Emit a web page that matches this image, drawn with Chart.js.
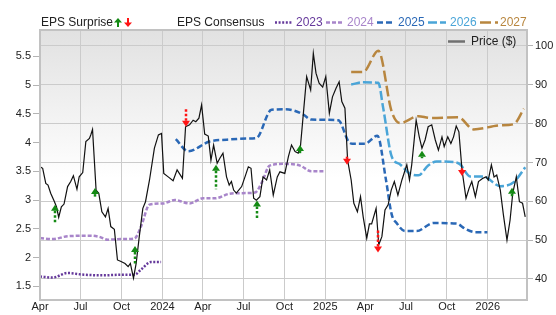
<!DOCTYPE html>
<html>
<head>
<meta charset="utf-8">
<script src="https://cdn.jsdelivr.net/npm/chart.js@4.4.1/dist/chart.umd.min.js"></script>
<style>
  html, body { margin: 0; padding: 0; background: #fff; }
  #wrap { position: relative; width: 556px; height: 315px; font-family: "Liberation Sans", Arial, sans-serif; }
  #chart { position: absolute; left: 0; top: 0; }
  .lg { position: absolute; font-size: 12px; line-height: 14px; white-space: nowrap; color: #222; }
  #marks { position: absolute; left: 0; top: 0; pointer-events: none; }
</style>
</head>
<body>
<div id="wrap">
  <canvas id="chart" width="556" height="315"></canvas>
  <svg id="marks" width="556" height="315"></svg>
  <div class="lg" style="left:41px; top:15px">EPS Surprise</div>
  <div class="lg" style="left:177px; top:15px">EPS Consensus</div>
  <div class="lg" id="lg2023" style="left:296px; top:15px">2023</div>
  <div class="lg" id="lg2024" style="left:347px; top:15px">2024</div>
  <div class="lg" id="lg2025" style="left:398px; top:15px">2025</div>
  <div class="lg" id="lg2026" style="left:450px; top:15px">2026</div>
  <div class="lg" id="lg2027" style="left:500px; top:15px">2027</div>
  <div class="lg" style="left:471px; top:34px">Price ($)</div>
</div>
<script>
// ============================================
// Data (x = days since Apr 1, 2023)
// ============================================

const monthTickDays = [0, 91, 183, 275, 366, 457, 549, 641, 731, 822, 914, 1006];
const monthTickLabels = ['Apr', 'Jul', 'Oct', '2024', 'Apr', 'Jul', 'Oct', '2025', 'Apr', 'Jul', 'Oct', '2026'];
const epsTicks = [1.5, 2, 2.5, 3, 3.5, 4, 4.5, 5, 5.5];
const priceTicks = [40, 50, 60, 70, 80, 90, 100];

const priceDays = [0, 6, 13, 18, 24, 32, 37, 42, 48, 54, 62, 69, 75, 83, 88, 96, 103, 111, 114, 118,
  126, 132, 139, 147, 153, 159, 167, 174, 182, 191, 198, 203, 210, 216, 223, 231, 237, 246, 257, 266,
  273, 278, 288, 299, 308, 320, 327, 336, 344, 350, 357, 363, 370, 378, 384, 390, 398, 404, 411, 419,
  425, 430, 435, 441, 453, 462, 468, 474, 480, 486, 494, 501, 509, 516, 524, 533, 539, 550, 558, 565,
  573, 580, 585, 591, 599, 608, 614, 620, 627, 635, 642, 650, 657, 665, 672, 678, 685, 691, 699, 705,
  713, 720, 726, 734, 740, 745, 755, 761, 768, 775, 782, 789, 796, 804, 813, 824, 830, 835, 845, 852,
  858, 865, 872, 880, 888, 895, 903, 908, 916, 923, 929, 935, 941, 948, 957, 964, 970, 978, 985, 994,
  1002, 1007, 1014, 1020, 1026, 1034, 1041, 1049, 1056, 1062, 1070, 1077, 1084, 1090];
const priceValues = [68.9, 68.5, 64.6, 64.2, 62.1, 60.0, 58.6, 55.9, 58.6, 59.3, 63.8, 65.1, 66.6, 63.1, 66.3, 67.4, 75.4, 76.2, 77.1, 78.5,
  62.9, 62.1, 57.3, 56.0, 58.2, 53.5, 52.8, 44.9, 44.5, 44.0, 43.2, 44.0, 40.2, 44.0, 50.9, 58.2, 59.9, 65.5, 73.7, 77.1,
  77.5, 67.2, 66.3, 65.3, 68.1, 65.9, 79.2, 79.7, 80.9, 80.5, 81.4, 84.8, 77.3, 76.8, 70.6, 74.5, 69.8, 71.1, 72.4, 66.3,
  64.2, 65.1, 62.9, 62.1, 63.8, 66.8, 68.9, 68.5, 60.8, 60.3, 61.2, 66.3, 65.5, 68.1, 61.6, 66.3, 67.6, 67.2, 71.5, 74.5,
  72.8, 72.4, 74.1, 81.8, 92.1, 88.7, 98.1, 93.0, 90.4, 89.4, 92.1, 82.7, 86.9, 89.1, 90.8, 85.7, 84.0, 70.6, 65.5, 59.5,
  57.3, 61.2, 56.0, 50.5, 54.2, 54.2, 58.2, 48.8, 50.9, 57.8, 59.1, 62.9, 65.1, 61.6, 65.5, 69.4, 65.5, 69.4, 80.9, 76.6,
  73.7, 75.8, 79.2, 79.7, 75.8, 73.2, 76.6, 74.1, 76.6, 74.9, 76.6, 79.4, 77.9, 68.1, 60.8, 63.4, 65.1, 61.2, 65.1, 65.9,
  66.3, 65.5, 69.4, 66.3, 66.8, 62.9, 56.5, 50.0, 55.2, 62.1, 66.3, 59.9, 59.5, 56.0];

const eps2023Days = [0, 28, 62, 99, 144, 182, 212, 227, 249, 272];
const eps2023Values = [1.67, 1.65, 1.73, 1.70, 1.69, 1.70, 1.70, 1.79, 1.92, 1.92];

const eps2024Days = [0, 28, 62, 114, 133, 152, 182, 212, 227, 246, 276, 303, 336, 366, 393, 426, 453, 483, 498, 516, 550, 584, 610, 637];
const eps2024Values = [2.34, 2.32, 2.37, 2.38, 2.36, 2.31, 2.32, 2.33, 2.54, 2.92, 2.94, 3.00, 2.94, 3.03, 3.03, 3.11, 3.12, 3.13, 3.30, 3.60, 3.63, 3.60, 3.50, 3.50];

const eps2025Days = [305, 333, 381, 419, 464, 486, 520, 550, 569, 591, 610, 670, 693, 702, 730, 758, 777, 790, 801, 820, 846, 884, 936, 955, 978, 1005];
const eps2025Values = [4.06, 3.85, 4.02, 4.05, 4.07, 4.08, 4.57, 4.58, 4.56, 4.49, 4.40, 4.39, 4.02, 3.98, 3.98, 4.12, 3.36, 2.75, 2.60, 2.46, 2.46, 2.60, 2.59, 2.50, 2.44, 2.44];

const eps2026Days = [699, 726, 760, 771, 790, 809, 831, 850, 872, 891, 929, 944, 966, 996, 1034, 1064, 1090];
const eps2026Values = [5.01, 5.05, 5.04, 4.60, 3.76, 3.62, 3.46, 3.43, 3.60, 3.67, 3.66, 3.62, 3.41, 3.41, 3.24, 3.31, 3.57];

const eps2027Days = [699, 726, 760, 790, 809, 850, 876, 940, 974, 1034, 1064, 1087];
const eps2027Values = [5.23, 5.23, 5.60, 4.54, 4.34, 4.46, 4.43, 4.44, 4.23, 4.30, 4.32, 4.59];

// EPS surprise arrows, in price units (tip = arrow head, tail = end of dotted stem)
const surpriseDays = [34, 124, 214, 327, 396, 488, 585, 690, 760, 858, 948, 1061];
const surpriseTip = [59.1, 63.4, 48.5, 79.2, 69.4, 60.2, 74.5, 69.4, 46.8, 73.0, 66.5, 63.5];
const surpriseTail = [54.4, 61.2, 43.6, 84.0, 63.1, 55.2, 72.4, 71.5, 52.8, 71.1, 68.5, 61.2];
const surpriseBeat = [true, true, true, false, true, true, true, false, false, true, false, true];

// ============================================
// Styles
// ============================================

const series = [
  { year: '2023', days: eps2023Days, values: eps2023Values, color: '#65399b', dash: [2, 1.6] },
  { year: '2024', days: eps2024Days, values: eps2024Values, color: '#a885ca', dash: [4, 2] },
  { year: '2025', days: eps2025Days, values: eps2025Values, color: '#2a68b6', dash: [6, 3] },
  { year: '2026', days: eps2026Days, values: eps2026Values, color: '#4aa5d8', dash: [9, 3] },
  { year: '2027', days: eps2027Days, values: eps2027Values, color: '#b8863f', dash: [11, 4] }
];
const beatColor = '#148a14';
const missColor = '#ff1414';
const gridColor = '#cbcbcb';

function toPoints(days, values) {
  return days.map((d, i) => ({ x: d, y: values[i] }));
}

// ============================================
// Plugins
// ============================================

const plotBackground = {
  id: 'plotBackground',
  beforeDraw(chart) {
    const { ctx, chartArea: a } = chart;
    const g = ctx.createLinearGradient(0, a.top, 0, a.bottom);
    g.addColorStop(0, '#e1e1e1');
    g.addColorStop(0.55, '#ffffff');
    g.addColorStop(1, '#ffffff');
    ctx.save();
    ctx.fillStyle = g;
    ctx.fillRect(a.left, a.top, a.right - a.left, a.bottom - a.top);
    ctx.restore();
  },
  afterDraw(chart) {
    const { ctx, chartArea: a } = chart;
    ctx.save();
    ctx.strokeStyle = '#c2c2c2';
    ctx.lineWidth = 2;
    ctx.strokeRect(a.left, a.top, a.right - a.left, a.bottom - a.top);
    ctx.restore();
  }
};

const surpriseArrows = {
  id: 'surpriseArrows',
  afterDatasetsDraw(chart) {
    const { ctx, scales: { x, y1 } } = chart;
    surpriseDays.forEach((d, i) => {
      const px = Math.round(x.getPixelForValue(d));
      const tip = y1.getPixelForValue(surpriseTip[i]);
      const tail = y1.getPixelForValue(surpriseTail[i]);
      const up = surpriseBeat[i];
      const color = up ? beatColor : missColor;
      const base = tip + (up ? 6 : -6);
      ctx.save();
      ctx.strokeStyle = color;
      ctx.lineWidth = 2.5;
      ctx.setLineDash([2.5, 2]);
      ctx.beginPath();
      ctx.moveTo(px, base);
      ctx.lineTo(px, tail);
      ctx.stroke();
      ctx.setLineDash([]);
      ctx.fillStyle = color;
      ctx.beginPath();
      ctx.moveTo(px, tip);
      ctx.lineTo(px - 4, base);
      ctx.lineTo(px + 4, base);
      ctx.closePath();
      ctx.fill();
      ctx.restore();
    });
  }
};

// ============================================
// Legend marks (svg overlay)
// ============================================

function drawLegendMarks() {
  const svg = document.getElementById('marks');
  const lineX = { '2023': 275, '2024': 326, '2025': 377, '2026': 428, '2027': 480 };
  let html = '';
  series.forEach(s => {
    const x1 = lineX[s.year];
    html += `<line x1="${x1}" y1="22.5" x2="${x1 + 18}" y2="22.5" stroke="${s.color}" stroke-width="2.5" stroke-dasharray="${s.dash.join(',')}"/>`;
    document.getElementById('lg' + s.year).style.color = s.color;
  });
  // surprise icons
  html += `<path d="M118 18 L122 22.5 L119 22.5 L119 27 L117 27 L117 22.5 L114 22.5 Z" fill="${beatColor}"/>`;
  html += `<path d="M128 27 L132 22.5 L129 22.5 L129 18 L127 18 L127 22.5 L124 22.5 Z" fill="${missColor}"/>`;
  // price legend
  html += `<line x1="448" y1="41.5" x2="465" y2="41.5" stroke="#707070" stroke-width="2.5"/>`;
  svg.innerHTML = html;
}

// ============================================
// Chart
// ============================================

Chart.defaults.font.family = '"Liberation Sans", Arial, sans-serif';
Chart.defaults.font.size = 11;
Chart.defaults.color = '#222';

const datasets = [
  {
    label: 'Price ($)',
    data: toPoints(priceDays, priceValues),
    yAxisID: 'y1',
    borderColor: '#111',
    borderWidth: 1.2,
    pointRadius: 0,
    tension: 0
  }
].concat(series.map(s => ({
  label: s.year,
  data: toPoints(s.days, s.values),
  yAxisID: 'y',
  borderColor: s.color,
  borderWidth: 2.5,
  borderDash: s.dash,
  pointRadius: 0,
  cubicInterpolationMode: 'monotone'
})));

new Chart(document.getElementById('chart'), {
  type: 'line',
  data: { datasets: datasets },
  options: {
    responsive: false,
    animation: false,
    devicePixelRatio: 1,
    layout: { padding: { top: 30, left: 0, right: 0, bottom: 0 } },
    plugins: {
      legend: { display: false },
      tooltip: { enabled: false }
    },
    scales: {
      x: {
        type: 'linear',
        min: 0,
        max: 1094,
        afterBuildTicks: s => { s.ticks = monthTickDays.map(v => ({ value: v })); },
        afterFit: s => { s.height = 15; },
        ticks: {
          autoSkip: false,
          maxRotation: 0,
          padding: 0,
          callback: v => monthTickLabels[monthTickDays.indexOf(v)]
        },
        grid: { color: gridColor, drawTicks: false },
        border: { display: false }
      },
      y: {
        position: 'left',
        min: 1.26,
        max: 5.96,
        afterBuildTicks: s => { s.ticks = epsTicks.map(v => ({ value: v })); },
        afterFit: s => { s.width = 40; },
        ticks: { padding: 2, callback: v => String(v) },
        grid: { drawOnChartArea: false, tickLength: 7, tickColor: '#b4b4b4' },
        border: { display: false }
      },
      y1: {
        position: 'right',
        min: 34.59,
        max: 104.12,
        afterBuildTicks: s => { s.ticks = priceTicks.map(v => ({ value: v })); },
        afterFit: s => { s.width = 29; },
        ticks: { padding: 2, callback: v => String(v) },
        grid: { color: gridColor, tickLength: 6, tickColor: '#b4b4b4' },
        border: { display: false }
      }
    }
  },
  plugins: [plotBackground, surpriseArrows]
});

drawLegendMarks();
</script>
</body>
</html>
